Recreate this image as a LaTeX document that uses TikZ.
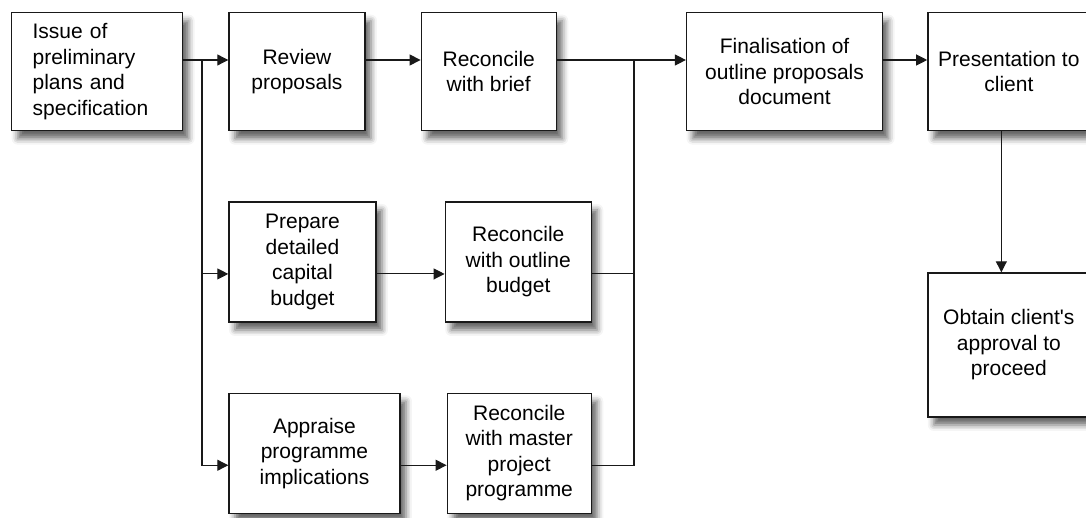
\documentclass[tikz,border=0pt]{standalone}
\usepackage{fontspec}
\setmainfont{Liberation Sans}
\usetikzlibrary{positioning,arrows.meta,shadows.blur}

\begin{document}
\begin{tikzpicture}[
  x=1pt, y=1pt,
  task/.style={draw=black!90, line width=1.3pt, fill=white, align=center, inner sep=3pt,
    font=\fontsize{21}{25.5}\selectfont, minimum height=118pt,
    blur shadow={shadow xshift=6pt, shadow yshift=-8pt, shadow blur radius=6pt, shadow opacity=60}},
  flow/.style={-{Triangle[length=11pt, width=11pt]}, line width=1.1pt, draw=black!90},
  link/.style={line width=1.1pt, draw=black!90}
]
  \useasboundingbox (0,0) rectangle (1086,-518);

  \node[task, anchor=north west, align=left, text width=129pt, inner xsep=21pt] (issue) at (11,-12) {Issue of\\preliminary\\plans and\\specification};
  \node[task, right=45pt of issue, minimum width=136pt] (review) {Review\\proposals};
  \node[task, right=55pt of review, minimum width=135pt] (brief) {Reconcile\\with brief};
  \node[task, right=129pt of brief, minimum width=196pt] (final) {Finalisation of\\outline proposals\\document};
  \node[task, right=44pt of final, minimum width=162pt] (present) {Presentation to\\client};
  \node[task, below=141pt of present, minimum width=162pt, minimum height=144pt] (obtain) {Obtain client\textquotesingle s\\approval to\\proceed};

  \node[task, below=70pt of review.south west, anchor=north west, minimum width=147pt, minimum height=120pt] (prepare) {Prepare\\detailed\\capital\\budget};
  \node[task, right=68pt of prepare, minimum width=146pt, minimum height=120pt] (outline) {Reconcile\\with outline\\budget};
  \node[task, below=70pt of prepare.south west, anchor=north west, minimum width=171pt, minimum height=120pt] (appraise) {Appraise\\programme\\implications};
  \node[task, right=46pt of appraise, minimum width=144pt, minimum height=120pt] (master) {Reconcile\\with master\\project\\programme};

  \coordinate (split) at (202,-60);
  \coordinate (merge) at (634,-60);

  \draw[link] (issue.east |- split) -- (split);
  \draw[flow] (split) -- (review.west |- split);
  \draw[flow] (review.east |- split) -- (brief.west |- split);
  \draw[link] (brief.east |- split) -- (merge);
  \draw[flow] (merge) -- (final.west |- merge);
  \draw[flow] (final.east |- merge) -- (present.west |- merge);
  \draw[flow] ([xshift=-7.5pt]present.south) -- ([xshift=-7.5pt]obtain.north);

  \draw[flow] (split) |- ([yshift=-12pt]prepare.west);
  \draw[flow] (split) |- ([yshift=-12pt]appraise.west);
  \draw[flow] ([yshift=-12pt]prepare.east) -- ([yshift=-12pt]outline.west);
  \draw[flow] ([yshift=-12pt]appraise.east) -- ([yshift=-12pt]master.west);
  \draw[link] ([yshift=-12pt]outline.east) -| (merge);
  \draw[link] ([yshift=-12pt]master.east) -| (merge);
\end{tikzpicture}
\end{document}
